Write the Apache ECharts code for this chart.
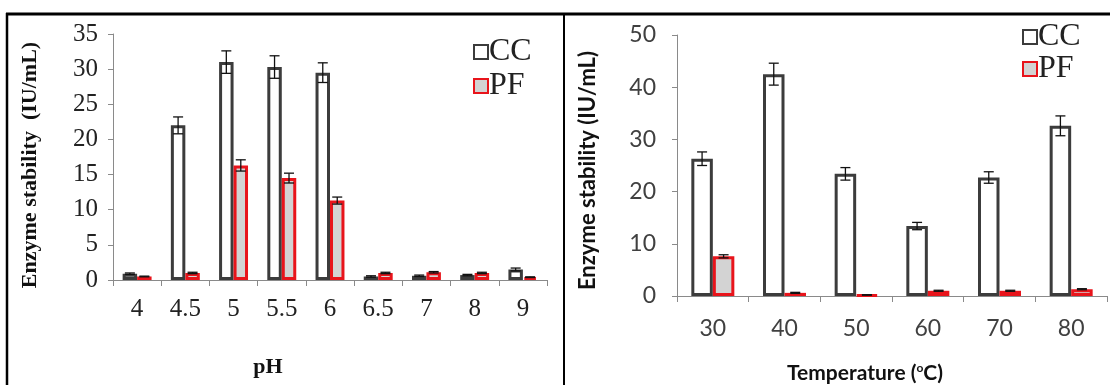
<!DOCTYPE html>
<html>
<head>
<meta charset="utf-8">
<script src="https://cdn.jsdelivr.net/npm/echarts@6/dist/echarts.min.js"></script>
<style>
html,body{margin:0;padding:0;background:#fff;}
#chart{width:1110px;height:385px;}
</style>
</head>
<body>
<div id="chart"></div>
<script>
// ---- data ----
const phCategories = ['4', '4.5', '5', '5.5', '6', '6.5', '7', '8', '9'];
const phCC = [0.9, 22.0, 31.0, 30.3, 29.5, 0.5, 0.6, 0.7, 1.5];
const phCCErr = [0.1, 1.2, 1.6, 1.6, 1.4, 0.1, 0.1, 0.1, 0.2];
const phPF = [0.5, 1.0, 16.3, 14.5, 11.3, 1.0, 1.1, 1.0, 0.4];
const phPFErr = [0.05, 0.1, 0.8, 0.7, 0.5, 0.1, 0.1, 0.1, 0.05];

const tempCategories = ['30', '40', '50', '60', '70', '80'];
const tempCC = [26.3, 42.5, 23.4, 13.4, 22.7, 32.6];
const tempCCErr = [1.3, 2.1, 1.2, 0.7, 1.1, 1.9];
const tempPF = [7.6, 0.6, 0.2, 1.0, 1.0, 1.3];
const tempPFErr = [0.3, 0.1, 0.05, 0.1, 0.1, 0.1];

// ---- styles ----
const serif = 'Liberation Serif';
const sans = 'Lato';
const ccStyle = { color: '#ffffff', borderColor: '#3c3c3c', borderWidth: 3 };
const pfStyle = { color: '#d3d3d3', borderColor: '#e8141b', borderWidth: 3 };

function errSeries(name, xi, yi, vals, errs, side) {
  return {
    type: 'custom', name: name, xAxisIndex: xi, yAxisIndex: yi, z: 5,
    silent: true,
    data: vals.map((v, i) => [i, v, errs[i]]),
    encode: { x: 0, y: 1 },
    renderItem: function (params, api) {
      const i = api.value(0), v = api.value(1), e = api.value(2);
      const band = api.size([1, 0])[0];
      const dx = side * band * 0.15;
      const hi = api.coord([i, v + e]);
      const lo = api.coord([i, v - e]);
      const x = hi[0] + dx;
      const w = 5;
      const st = { stroke: '#111', lineWidth: 1.3 };
      return {
        type: 'group',
        children: [
          { type: 'line', shape: { x1: x, y1: hi[1], x2: x, y2: lo[1] }, style: st },
          { type: 'line', shape: { x1: x - w, y1: hi[1], x2: x + w, y2: hi[1] }, style: st },
          { type: 'line', shape: { x1: x - w, y1: lo[1], x2: x + w, y2: lo[1] }, style: st }
        ]
      };
    }
  };
}

const axisLineGray = { lineStyle: { color: '#8a8a8a', width: 1 } };

const option = {
  animation: false,
  backgroundColor: '#fff',
  grid: [
    { left: 113, top: 34, width: 434, height: 246, outerBoundsMode: 'none', containLabel: false },
    { left: 677, top: 35, width: 430, height: 261, outerBoundsMode: 'none', containLabel: false }
  ],
  legend: [
    {
      left: 468, top: 31, orient: 'vertical', itemGap: 2, itemWidth: 14, itemHeight: 14,
      icon: 'rect', selectedMode: false, data: ['CC', 'PF'],
      textStyle: { fontFamily: serif, fontSize: 32, color: '#222', padding: [0, 0, 0, -4] }
    },
    {
      left: 1017, top: 16, orient: 'vertical', itemGap: 0, itemWidth: 14, itemHeight: 14,
      icon: 'rect', selectedMode: false, data: ['CC', 'PF'],
      textStyle: { fontFamily: serif, fontSize: 32, color: '#222', padding: [0, 0, 0, -4] }
    }
  ],
  xAxis: [
    {
      type: 'category', gridIndex: 0, data: phCategories,
      axisLine: axisLineGray, axisTick: { show: true, length: 6, lineStyle: { color: '#8a8a8a' } },
      axisLabel: { fontFamily: serif, fontSize: 25, color: '#222', margin: 17 },
      name: 'pH', nameLocation: 'middle', nameGap: 76,
      nameTextStyle: { fontFamily: serif, fontSize: 22, fontWeight: 'bold', color: '#111', padding: [0, 124, 0, 0] }
    },
    {
      type: 'category', gridIndex: 1, data: tempCategories,
      axisLine: axisLineGray, axisTick: { show: true, length: 6, lineStyle: { color: '#8a8a8a' } },
      axisLabel: { fontFamily: sans, fontSize: 23, color: '#404040', margin: 21 },
      name: 'Temperature ({sup|o}C)', nameLocation: 'middle', nameGap: 66,
      nameTextStyle: {
        fontFamily: sans, fontSize: 21, fontWeight: 'bold', color: '#111', padding: [0, 54, 0, 0],
        rich: { sup: { fontFamily: sans, fontSize: 12, fontWeight: 'bold', color: '#111', padding: [0, 0, 10, 0] } }
      }
    }
  ],
  yAxis: [
    {
      type: 'value', gridIndex: 0, min: 0, max: 35, interval: 5,
      axisLine: { show: true, lineStyle: { color: '#8a8a8a' } },
      axisTick: { show: true, length: 5, lineStyle: { color: '#8a8a8a' } },
      splitLine: { show: false },
      axisLabel: { fontFamily: serif, fontSize: 25, color: '#222', margin: 15 },
      name: 'Enzyme stability  (IU/mL)', nameLocation: 'middle', nameGap: 72,
      nameTextStyle: { fontFamily: serif, fontSize: 22, fontWeight: 'bold', color: '#111', padding: [0, 16, 0, 0] }
    },
    {
      type: 'value', gridIndex: 1, min: 0, max: 50, interval: 10,
      axisLine: { show: true, lineStyle: { color: '#8a8a8a' } },
      axisTick: { show: true, length: 5, lineStyle: { color: '#8a8a8a' } },
      splitLine: { show: false },
      axisLabel: { fontFamily: sans, fontSize: 23, color: '#404040', margin: 21 },
      name: 'Enzyme stability (IU/mL)', nameLocation: 'middle', nameGap: 78,
      nameTextStyle: { fontFamily: sans, fontSize: 22, fontWeight: 'bold', color: '#111', padding: [0, 10, 0, 0] }
    }
  ],
  series: [
    { type: 'bar', name: 'CC', xAxisIndex: 0, yAxisIndex: 0, data: phCC, barGap: '0%', barCategoryGap: '40%', itemStyle: ccStyle },
    { type: 'bar', name: 'PF', xAxisIndex: 0, yAxisIndex: 0, data: phPF, barGap: '0%', barCategoryGap: '40%', itemStyle: pfStyle },
    { type: 'bar', name: 'CC', xAxisIndex: 1, yAxisIndex: 1, data: tempCC, barGap: '0%', barCategoryGap: '40%', itemStyle: ccStyle },
    { type: 'bar', name: 'PF', xAxisIndex: 1, yAxisIndex: 1, data: tempPF, barGap: '0%', barCategoryGap: '40%', itemStyle: pfStyle },
    errSeries('errPhCC', 0, 0, phCC, phCCErr, -1),
    errSeries('errPhPF', 0, 0, phPF, phPFErr, 1),
    errSeries('errTempCC', 1, 1, tempCC, tempCCErr, -1),
    errSeries('errTempPF', 1, 1, tempPF, tempPFErr, 1)
  ],
  graphic: [
    { type: 'line', shape: { x1: 6, y1: 14, x2: 1110, y2: 14 }, style: { stroke: '#000', lineWidth: 3 } },
    { type: 'line', shape: { x1: 7, y1: 13, x2: 7, y2: 385 }, style: { stroke: '#000', lineWidth: 2.5 } },
    { type: 'line', shape: { x1: 564, y1: 13, x2: 564, y2: 385 }, style: { stroke: '#000', lineWidth: 2 } }
  ]
};

const chart = echarts.init(document.getElementById('chart'), null, { renderer: 'canvas' });
chart.setOption(option);
</script>
</body>
</html>
